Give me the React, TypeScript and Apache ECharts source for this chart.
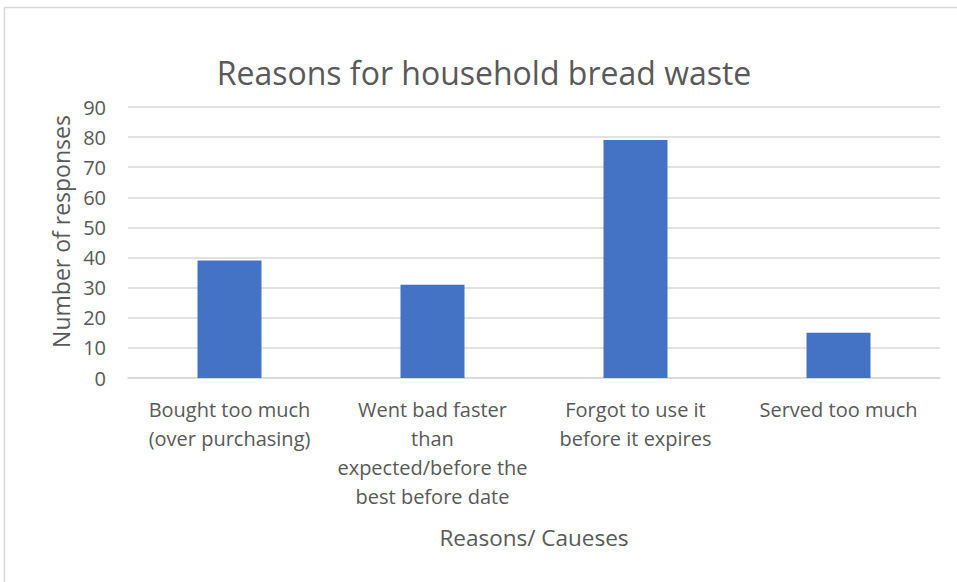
import React, { useEffect, useRef } from "react";
import * as echarts from "echarts";

const categories = [
  "Bought too much\n(over purchasing)",
  "Went bad faster\nthan\nexpected/before the\nbest before date",
  "Forgot to use it\nbefore it expires",
  "Served too much",
];
const responses = [39, 31, 79, 15];
const yTicks = { min: 0, max: 90, interval: 10 };

const FONT = "'Open Sans', Lato, sans-serif";
const TEXT = "#595959";
const GRID = "#d9d9d9";

export default function App() {
  const ref = useRef<HTMLDivElement>(null);
  useEffect(() => {
    if (!ref.current) return;
    const chart = echarts.init(ref.current, null, { renderer: "svg" });
    chart.setOption({
      animation: false,
      backgroundColor: "#ffffff",
      textStyle: { fontFamily: FONT, color: TEXT },
      title: {
        text: "Reasons for household bread waste",
        left: 479,
        top: 51,
        textAlign: "center",
        textStyle: { fontFamily: FONT, fontSize: 32, fontWeight: "normal", color: TEXT },
      },
      graphic: [
        {
          type: "rect",
          shape: { x: 4.5, y: 7.5, width: 1000, height: 1000 },
          style: { fill: "none", stroke: "#d9d9d9", lineWidth: 1.5 },
          silent: true,
        },
      ],
      grid: { left: 128, right: 17, top: 107, bottom: 204 },
      xAxis: {
        type: "category",
        data: categories,
        axisLine: { show: true, lineStyle: { color: GRID, width: 1.5 } },
        axisTick: { show: false },
        axisLabel: {
          interval: 0,
          fontFamily: FONT,
          fontSize: 20,
          color: TEXT,
          lineHeight: 29,
          margin: 17,
        },
        name: "Reasons/ Caueses",
        nameLocation: "middle",
        nameGap: 148,
        nameTextStyle: { fontFamily: FONT, fontSize: 22.5, color: TEXT },
      },
      yAxis: {
        type: "value",
        min: yTicks.min,
        max: yTicks.max,
        interval: yTicks.interval,
        axisLine: { show: false },
        axisTick: { show: false },
        splitLine: { lineStyle: { color: GRID, width: 1.5 } },
        axisLabel: { fontFamily: FONT, fontSize: 20, color: TEXT, margin: 22 },
        name: "Number of responses",
        nameLocation: "middle",
        nameGap: 56,
        nameTextStyle: { fontFamily: FONT, fontSize: 23, color: TEXT, padding: [0, 0, 0, 22] },
      },
      series: [
        {
          type: "bar",
          data: responses,
          barWidth: 64,
          itemStyle: { color: "#4472c4" },
        },
      ],
    });
    return () => chart.dispose();
  }, []);
  return (
    <div
      ref={ref}
      style={{ position: "absolute", left: 0, top: 0, width: 957, height: 582 }}
    />
  );
}
